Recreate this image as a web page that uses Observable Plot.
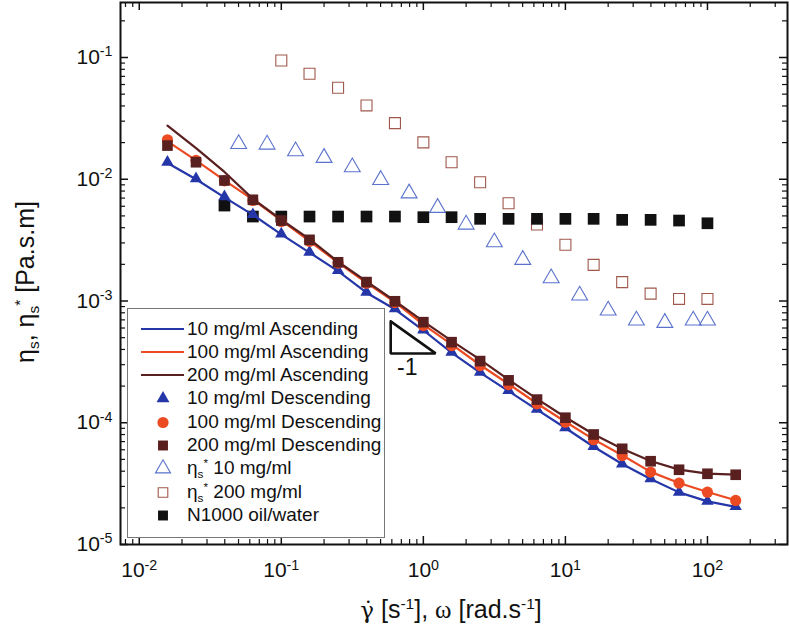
<!DOCTYPE html>
<html><head><meta charset="utf-8">
<script src="https://cdn.jsdelivr.net/npm/d3@7"></script>
<script src="https://cdn.jsdelivr.net/npm/@observablehq/plot@0.6"></script>
<style>
body{margin:0;background:#fff;font-family:"Liberation Sans",Arial,sans-serif;}
#wrap{position:relative;width:789px;height:636px;overflow:hidden;background:#fff;}
#wrap svg{position:absolute;left:0;top:0;}
.serif{font-family:"Liberation Serif","Times New Roman",serif;}
.gam{font-family:"DejaVu Serif",serif;font-size:0.92em;}
.sub{font-size:0.62em;position:relative;top:0.35em;}
.sup{font-size:0.62em;position:relative;top:-0.6em;}
#ylab{position:absolute;left:25px;top:282px;transform:translate(-50%,-50%) rotate(-90deg);white-space:nowrap;font-size:25px;color:#111;}
#xlab{position:absolute;left:451px;top:609px;transform:translate(-50%,-50%);white-space:nowrap;font-size:25px;color:#111;}
#legend{position:absolute;left:127px;top:308px;width:258px;height:230px;border:1px solid #777;background:#fff;box-sizing:border-box;}
.row{position:absolute;left:0;height:24px;line-height:24px;font-size:19px;color:#111;white-space:nowrap;}
.row svg{position:absolute;left:0;top:0;}
.row span.t{position:absolute;left:59px;top:0;}
</style></head><body><div id="wrap"></div>
<script>
// ---------- data ----------
const xDesc = [0.0158, 0.0251, 0.0398, 0.0631, 0.1, 0.158, 0.251, 0.398, 0.631, 1.0, 1.58, 2.51, 3.98, 6.31, 10, 15.8, 25.1, 39.8, 63.1, 100, 158];
const blueAsc  = [0.0136, 0.0100, 0.0071, 0.0051, 0.00353, 0.00250, 0.00176, 0.00117, 0.000855, 0.000575, 0.000377, 0.000258, 0.000182, 0.000128, 0.0000905, 0.0000635, 0.0000458, 0.0000345, 0.0000268, 0.0000226, 0.0000204];
const redAsc   = [0.0205, 0.0143, 0.0098, 0.0068, 0.0046, 0.0031, 0.00207, 0.00141, 0.00098, 0.00064, 0.00044, 0.000298, 0.000208, 0.000144, 0.000102, 0.0000730, 0.0000540, 0.0000395, 0.0000320, 0.0000270, 0.0000231];
const brownAsc = [0.0276, 0.0180, 0.01148, 0.0069, 0.00465, 0.00322, 0.0021, 0.00145, 0.00100, 0.00068, 0.00047, 0.00033, 0.000226, 0.000157, 0.000111, 0.0000805, 0.0000612, 0.0000485, 0.0000412, 0.0000382, 0.0000375];
const blueDesc  = [0.0138, 0.0101, 0.00721, 0.00513, 0.00356, 0.00252, 0.00178, 0.00118, 0.000863, 0.000580, 0.000380, 0.000260, 0.000184, 0.000129, 0.0000910, 0.0000638, 0.0000460, 0.0000347, 0.0000269, 0.0000227, 0.0000205];
const redDesc   = [0.0211, 0.0143, 0.0097, 0.0067, 0.0045, 0.0031, 0.00205, 0.0014, 0.00097, 0.00063, 0.00043, 0.000295, 0.000206, 0.000143, 0.000101, 0.0000725, 0.0000538, 0.0000393, 0.0000319, 0.0000269, 0.0000230];
const brownDesc = [0.0189, 0.0138, 0.00977, 0.00678, 0.00458, 0.00318, 0.00208, 0.00143, 0.000995, 0.000670, 0.000459, 0.000321, 0.000223, 0.000155, 0.000110, 0.0000801, 0.0000611, 0.0000483, 0.0000411, 0.0000381, 0.0000374];

const xEta10 = [0.0501, 0.0794, 0.126, 0.2, 0.316, 0.501, 0.794, 1.26, 2.0, 3.16, 5.01, 7.94, 12.6, 20.0, 31.6, 50.1, 79.4, 100];
const yEta10 = [0.0195, 0.0193, 0.0170, 0.0150, 0.01256, 0.00989, 0.00767, 0.00583, 0.00425, 0.00304, 0.00218, 0.00154, 0.00111, 0.000836, 0.000692, 0.000662, 0.000692, 0.000692];
const xEta200 = [0.1, 0.158, 0.251, 0.398, 0.631, 1.0, 1.58, 2.51, 3.98, 6.31, 10, 15.8, 25.1, 39.8, 63.1, 100];
const yEta200 = [0.0945, 0.0735, 0.0564, 0.0404, 0.0289, 0.0201, 0.0138, 0.00946, 0.00636, 0.00425, 0.00290, 0.00198, 0.00143, 0.00115, 0.00104, 0.00104];
const xN1000 = [0.0398, 0.0631, 0.1, 0.158, 0.251, 0.398, 0.631, 1.0, 1.58, 2.51, 3.98, 6.31, 10, 15.8, 25.1, 39.8, 63.1, 100];
const yN1000 = [0.00608, 0.00494, 0.00494, 0.00494, 0.00494, 0.00494, 0.00494, 0.00488, 0.00488, 0.00473, 0.00473, 0.00473, 0.00473, 0.00473, 0.00464, 0.00464, 0.00458, 0.00435];

const slopeX = [0.589, 0.589, 1.22, 0.589];
const slopeY = [0.00068, 0.000371, 0.000371, 0.00068];
const slopeLabel = "-1";
const slopeLabelX = 0.771, slopeLabelY = 0.000286;

const xMajor = [0.01, 0.1, 1, 10, 100];
const xTickLabels = ["10^-2", "10^-1", "10^0", "10^1", "10^2"];
const xMinor = [0.008, 0.009, 0.02, 0.03, 0.04, 0.05, 0.06, 0.07, 0.08, 0.09, 0.2, 0.3, 0.4, 0.5, 0.6, 0.7, 0.8, 0.9, 2, 3, 4, 5, 6, 7, 8, 9, 20, 30, 40, 50, 60, 70, 80, 90, 200, 300];
const yMajor = [1e-5, 1e-4, 1e-3, 1e-2, 1e-1];
const yTickLabels = ["10^-5", "10^-4", "10^-3", "10^-2", "10^-1"];
const yMinor = [2e-5, 3e-5, 4e-5, 5e-5, 6e-5, 7e-5, 8e-5, 9e-5, 2e-4, 3e-4, 4e-4, 5e-4, 6e-4, 7e-4, 8e-4, 9e-4, 0.002, 0.003, 0.004, 0.005, 0.006, 0.007, 0.008, 0.009, 0.02, 0.03, 0.04, 0.05, 0.06, 0.07, 0.08, 0.09, 0.2];

const legendLabels = ["10 mg/ml Ascending", "100 mg/ml Ascending", "200 mg/ml Ascending", "10 mg/ml Descending", "100 mg/ml Descending", "200 mg/ml Descending", "η_s^* 10 mg/ml", "η_s^* 200 mg/ml", "N1000 oil/water"];

// ---------- styles ----------
const C = {blue: "#2436a8", red: "#ec4a22", brown: "#5a1f1f", openBlue: "#5a72cc", openBrown: "#a0584c", black: "#111"};
const W = 789, H = 636, mL = 120, mR = 2, mT = 2, mB = 92;
const plotH = H - mT - mB, plotW = W - mL - mR;

const zip = (xs, ys) => xs.map((x, i) => ({x, y: ys[i]}));

const plot = Plot.plot({
  width: W, height: H,
  marginLeft: mL, marginRight: mR, marginTop: mT, marginBottom: mB,
  x: {type: "log", domain: [0.00738, 366]},
  y: {type: "log", domain: [1e-5, 0.283]},
  style: {fontFamily: "'Liberation Sans', Arial, sans-serif", fontSize: "21px", background: "white", color: "#111"},
  marks: [
    // ticks (inward)
    Plot.ruleX(xMajor, {x: d => d, insetTop: plotH - 8, stroke: "#111", strokeWidth: 1.5}),
    Plot.ruleX(xMinor, {x: d => d, insetTop: plotH - 5, stroke: "#111", strokeWidth: 1.2}),
    Plot.ruleX(xMajor, {x: d => d, insetBottom: plotH - 8, stroke: "#111", strokeWidth: 1.5}),
    Plot.ruleX(xMinor, {x: d => d, insetBottom: plotH - 5, stroke: "#111", strokeWidth: 1.2}),
    Plot.ruleY(yMajor, {y: d => d, insetRight: plotW - 8, stroke: "#111", strokeWidth: 1.5}),
    Plot.ruleY(yMinor, {y: d => d, insetRight: plotW - 5, stroke: "#111", strokeWidth: 1.2}),
    Plot.ruleY(yMajor, {y: d => d, insetLeft: plotW - 8, stroke: "#111", strokeWidth: 1.5}),
    Plot.ruleY(yMinor, {y: d => d, insetLeft: plotW - 5, stroke: "#111", strokeWidth: 1.2}),
    Plot.frame({stroke: "#111", strokeWidth: 2}),
    Plot.axisX({ticks: xMajor, anchor: "bottom", tickSize: 0, tickPadding: 18, label: null,
      tickFormat: d => xTickLabels[xMajor.indexOf(d)]}),
    Plot.axisY({ticks: yMajor, anchor: "left", tickSize: 0, tickPadding: 8, label: null,
      tickFormat: d => yTickLabels[yMajor.indexOf(d)]}),
    // open markers and reference fluid
    Plot.dot(zip(xEta200, yEta200), {x: "x", y: "y", symbol: "square", r: 6.2, stroke: C.openBrown, strokeWidth: 1.1, fill: "none"}),
    Plot.dot(zip(xEta10, yEta10), {x: "x", y: "y", symbol: "triangle", r: 5.9, stroke: C.openBlue, strokeWidth: 1.1, fill: "none"}),
    Plot.dot(zip(xN1000, yN1000), {x: "x", y: "y", symbol: "square", r: 6.6, fill: C.black, stroke: "none"}),
    // ascending lines
    Plot.line(zip(xDesc, blueAsc), {x: "x", y: "y", stroke: C.blue, strokeWidth: 2.2}),
    Plot.line(zip(xDesc, redAsc), {x: "x", y: "y", stroke: C.red, strokeWidth: 2.2}),
    Plot.line(zip(xDesc, brownAsc), {x: "x", y: "y", stroke: C.brown, strokeWidth: 2.2}),
    // descending markers
    Plot.dot(zip(xDesc, blueDesc), {x: "x", y: "y", symbol: "triangle", r: 4.6, fill: C.blue, stroke: "none"}),
    Plot.dot(zip(xDesc, redDesc), {x: "x", y: "y", symbol: "circle", r: 5.6, fill: C.red, stroke: "none"}),
    Plot.dot(zip(xDesc, brownDesc), {x: "x", y: "y", symbol: "square", r: 6.0, fill: C.brown, stroke: "none"}),
    // slope triangle
    Plot.line(zip(slopeX, slopeY), {x: "x", y: "y", stroke: "#111", strokeWidth: 2.6, strokeLinejoin: "miter"}),
    Plot.text([slopeLabel], {x: () => slopeLabelX, y: () => slopeLabelY, text: d => d, fontSize: 23, fill: "#111"})
  ]
});

// superscripted tick labels
plot.querySelectorAll("text").forEach(t => {
  const m = t.textContent.match(/^(\d+)\^(.+)$/);
  if (!m) return;
  while (t.firstChild) t.removeChild(t.firstChild);
  t.appendChild(document.createTextNode(m[1]));
  const ts = document.createElementNS("http://www.w3.org/2000/svg", "tspan");
  ts.setAttribute("dy", "-0.55em");
  ts.setAttribute("font-size", "0.68em");
  ts.textContent = m[2];
  t.appendChild(ts);
});

const wrap = document.getElementById("wrap");
wrap.appendChild(plot);

// axis titles
const ylab = document.createElement("div");
ylab.id = "ylab";
ylab.innerHTML = 'η<span class="sub">s</span>, η<span class="sub">s</span><span class="sup">*</span> [Pa.s.m]';
wrap.appendChild(ylab);
const xlab = document.createElement("div");
xlab.id = "xlab";
xlab.innerHTML = '<span class="gam">γ̇</span> [s<span class="sup">-1</span>], <span class="serif">ω</span> [rad.s<span class="sup">-1</span>]';
wrap.appendChild(xlab);

// legend
const legend = document.createElement("div");
legend.id = "legend";
wrap.appendChild(legend);
const legendKinds = [
  {line: C.blue}, {line: C.red}, {line: C.brown},
  {sym: d3.symbolTriangle, r: 4.8, fill: C.blue},
  {sym: d3.symbolCircle, r: 5.6, fill: C.red},
  {sym: d3.symbolSquare, r: 5.6, fill: C.brown},
  {sym: d3.symbolTriangle, r: 5.6, stroke: C.openBlue},
  {sym: d3.symbolSquare, r: 5.4, stroke: C.openBrown},
  {sym: d3.symbolSquare, r: 5.6, fill: C.black}
];
legendLabels.forEach((lab, k) => {
  const row = document.createElement("div");
  row.className = "row";
  row.style.top = (7.5 + 23.3 * k) + "px";
  const kind = legendKinds[k];
  let sw = '<svg width="60" height="24">';
  if (kind.line) sw += `<line x1="13" x2="56" y1="12" y2="12" stroke="${kind.line}" stroke-width="2.2"/>`;
  else {
    const p = d3.symbol().type(kind.sym).size(Math.PI * kind.r * kind.r)();
    sw += `<path transform="translate(35,12.5)" d="${p}" fill="${kind.fill || 'none'}" stroke="${kind.stroke || 'none'}" stroke-width="1.1"/>`;
  }
  sw += '</svg>';
  const html = lab.replace("η_s^*", 'η<span class="sub">s</span><span class="sup">*</span>');
  row.innerHTML = sw + '<span class="t">' + html + '</span>';
  legend.appendChild(row);
});
</script>
</body></html>
